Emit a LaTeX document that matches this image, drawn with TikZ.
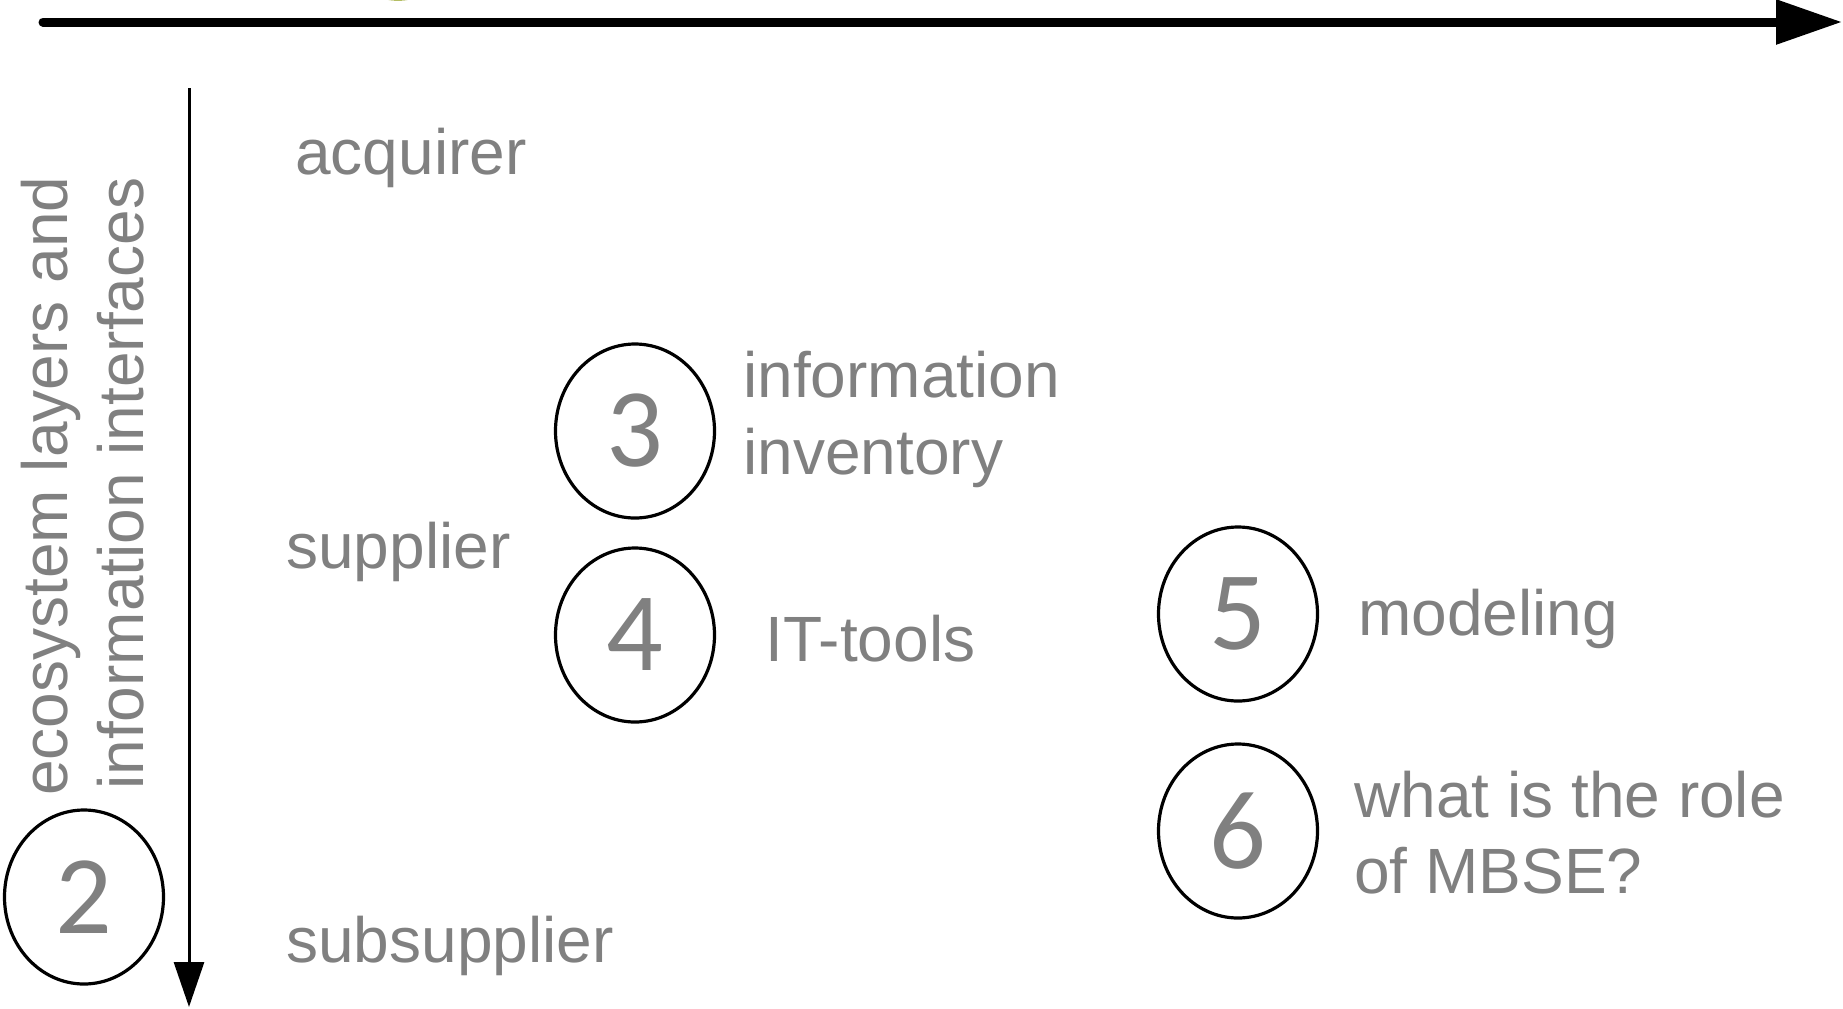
\documentclass[tikz,border=0pt]{standalone}
\usepackage{fontspec}
\setmainfont{Liberation Sans}
\newfontfamily\digitfont{Carlito}
\usetikzlibrary{arrows.meta,shapes.geometric}
\definecolor{txtgray}{HTML}{808080}
\definecolor{olivec}{HTML}{8C9A10}
\begin{document}
\begin{tikzpicture}[x=0.5pt,y=-0.5pt,
  numcirc/.style={draw=black,line width=1.6pt,ellipse,minimum width=79.5pt,minimum height=87pt,inner sep=0pt,text=txtgray,font=\digitfont\fontsize{56}{60}\selectfont},
  lbl/.style={text=txtgray,font=\fontsize{32}{38}\selectfont,inner sep=0pt,anchor=base west},
  vlbl/.style={lbl,rotate=90}]
\useasboundingbox (0,0) rectangle (1843,1008);
\clip (0,0) rectangle (1843,1008);
% partially visible circle at the top
\node[ellipse,draw=olivec,line width=1.6pt,minimum width=79.5pt,minimum height=87pt,inner sep=0pt] (ctop) at (398,-88) {};
% axes
\coordinate (hs) at (43,22);
\coordinate (he) at (1842,22);
\draw[line width=4.5pt,line cap=round,-{Triangle[length=33pt,width=21.5pt]}] (hs) -- (he);
\coordinate (vs) at (189,88);
\coordinate (ve) at (189,1007);
\draw[line width=1.5pt,-{Triangle[length=22.5pt,width=15pt]}] (vs) -- (ve);
% vertical axis label
\node[vlbl] (eco) at (67,796) {ecosystem layers and};
\node[vlbl] (inf) at (143,790) {information interfaces};
% layer labels
\node[lbl] (acq) at (295,174) {acquirer};
\node[lbl] (sup) at (286,568) {supplier};
\node[lbl] (sub) at (286,962) {subsupplier};
% numbered circles
\node[numcirc] (n2) at (84,897) {2};
\node[numcirc] (n3) at (635,431) {3};
\node[numcirc] (n4) at (635,635) {4};
\node[numcirc] (n5) at (1238,614) {5};
\node[numcirc] (n6) at (1238,831) {6};
% topic labels
\node[lbl] (t3a) at (743,397) {information};
\node[lbl] (t3b) at (743,474) {inventory};
\node[lbl] (t4) at (765,661) {IT-tools};
\node[lbl] (t5) at (1358,635) {modeling};
\node[lbl] (t6a) at (1354,817) {what is the role};
\node[lbl] (t6b) at (1354,893) {of MBSE?};
\end{tikzpicture}
\end{document}
